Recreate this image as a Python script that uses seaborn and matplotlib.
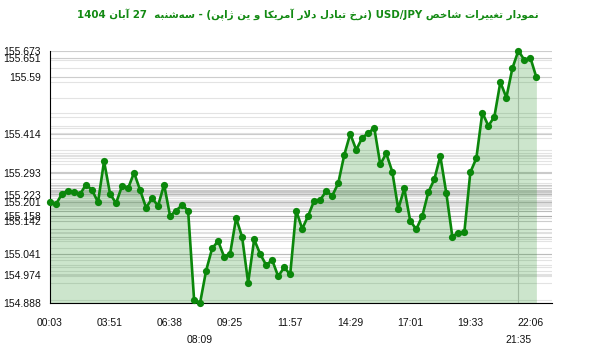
import re
import numpy as np
import pandas as pd
import matplotlib
matplotlib.use("Agg")
import matplotlib.pyplot as plt
import seaborn as sns

# ---------------- data ----------------
title_text = "نمودار تغییرات شاخص USD/JPY (نرخ تبادل دلار آمریکا و ین ژاپن) - سه\u200cشنبه  27 آبان 1404"

values = [155.201, 155.195, 155.227, 155.237, 155.234, 155.226, 155.256, 155.239, 155.201, 155.329,
          155.227, 155.198, 155.252, 155.244, 155.293, 155.239, 155.184, 155.213, 155.190, 155.256,
          155.158, 155.175, 155.192, 155.175, 154.896, 154.888, 154.988, 155.057, 155.080, 155.031,
          155.041, 155.152, 155.092, 154.950, 155.085, 155.040, 155.005, 155.021, 154.970, 154.998,
          154.976, 155.175, 155.118, 155.159, 155.206, 155.208, 155.236, 155.221, 155.260, 155.348,
          155.414, 155.364, 155.402, 155.416, 155.433, 155.319, 155.353, 155.296, 155.180, 155.244,
          155.142, 155.117, 155.158, 155.232, 155.272, 155.345, 155.229, 155.094, 155.106, 155.107,
          155.294, 155.338, 155.480, 155.439, 155.467, 155.575, 155.527, 155.618, 155.673, 155.644,
          155.651, 155.590]

ytick_values = [155.673, 155.651, 155.59, 155.414, 155.293, 155.223, 155.201, 155.158, 155.142,
                155.041, 154.974, 154.888]

xtick_pos = [0, 10, 20, 30, 40, 50, 60, 70, 80]
xtick_labels = ["00:03", "03:51", "06:38", "09:25", "11:57", "14:29", "17:01", "19:33", "22:06"]
xtick2_pos = [25, 78]
xtick2_labels = ["08:09", "21:35"]

# ---------------- simple Persian shaping + bidi ----------------
FORMS = {
    'ا': (0xFE8D, 0xFE8E, None, None), 'آ': (0xFE81, 0xFE82, None, None),
    'ب': (0xFE8F, 0xFE90, 0xFE91, 0xFE92), 'پ': (0xFB56, 0xFB57, 0xFB58, 0xFB59),
    'ت': (0xFE95, 0xFE96, 0xFE97, 0xFE98), 'خ': (0xFEA5, 0xFEA6, 0xFEA7, 0xFEA8),
    'د': (0xFEA9, 0xFEAA, None, None), 'ر': (0xFEAD, 0xFEAE, None, None),
    'ژ': (0xFB8A, 0xFB8B, None, None), 'س': (0xFEB1, 0xFEB2, 0xFEB3, 0xFEB4),
    'ش': (0xFEB5, 0xFEB6, 0xFEB7, 0xFEB8), 'ص': (0xFEB9, 0xFEBA, 0xFEBB, 0xFEBC),
    'غ': (0xFECD, 0xFECE, 0xFECF, 0xFED0), 'ک': (0xFB8E, 0xFB8F, 0xFB90, 0xFB91),
    'ل': (0xFEDD, 0xFEDE, 0xFEDF, 0xFEE0), 'م': (0xFEE1, 0xFEE2, 0xFEE3, 0xFEE4),
    'ن': (0xFEE5, 0xFEE6, 0xFEE7, 0xFEE8), 'ه': (0xFEE9, 0xFEEA, 0xFEEB, 0xFEEC),
    'و': (0xFEED, 0xFEEE, None, None), 'ی': (0xFBFC, 0xFBFD, 0xFBFE, 0xFBFF),
}


def shape(s):
    out = []
    i, n = 0, len(s)
    while i < n:
        c = s[i]
        if c not in FORMS:
            if c != '\u200c':
                out.append(c)
            i += 1
            continue
        prev = s[i - 1] if i > 0 else ''
        joins_prev = prev in FORMS and FORMS[prev][2] is not None
        if c == 'ل' and i + 1 < n and s[i + 1] in ('ا', 'آ'):
            lig = (0xFEFB, 0xFEFC) if s[i + 1] == 'ا' else (0xFEF5, 0xFEF6)
            out.append(chr(lig[1] if joins_prev else lig[0]))
            i += 2
            continue
        nxt = s[i + 1] if i + 1 < n else ''
        joins_next = FORMS[c][2] is not None and nxt in FORMS
        iso, fin, ini, med = FORMS[c]
        if joins_prev and joins_next:
            g = med
        elif joins_prev:
            g = fin
        elif joins_next:
            g = ini
        else:
            g = iso
        out.append(chr(g))
        i += 1
    return ''.join(out)


def visual(s):
    s = shape(s)
    segs = re.findall(r'[A-Za-z0-9/.]+|[^A-Za-z0-9/.]+', s)
    vis = []
    for seg in reversed(segs):
        if re.match(r'[A-Za-z0-9]', seg):
            vis.append(seg)
        else:
            vis.append(seg[::-1].translate(str.maketrans('()', ')(')))
    return ''.join(vis)


# ---------------- plot ----------------
sns.set_style("white")
plt.rcParams['font.family'] = ['Liberation Sans', 'DejaVu Sans']

df = pd.DataFrame({"idx": np.arange(len(values)), "value": values})
ymin, ymax = min(values), max(values)
xmax = 83.6

fig = plt.figure(figsize=(6.0, 3.52), dpi=100)
ax = fig.add_axes([50 / 600, 1 - 302.7 / 352, 502 / 600, 252 / 352])

# horizontal lines at every value
ax.hlines(values, 0, xmax, colors='gray', alpha=0.22, linewidth=0.8, zorder=1)
ax.hlines(ytick_values, 0, xmax, colors='gray', alpha=0.22, linewidth=0.8, zorder=1)
ax.axvline(xtick2_pos[1], color='#c8c8c8', linewidth=0.8, zorder=1)

ax.fill_between(df["idx"], df["value"], ymin, color='green', alpha=0.2, linewidth=0, zorder=2)
sns.lineplot(data=df, x="idx", y="value", ax=ax, color='#0b870b', linewidth=1.9,
             marker='o', markersize=5.2, markeredgewidth=0, zorder=3)
for ln in ax.lines:
    ln.set_clip_on(False)

ax.set_xlim(0, xmax)
ax.set_ylim(ymin, ymax)
ax.set_xlabel("")
ax.set_ylabel("")

ax.set_yticks(ytick_values)
ax.set_yticklabels([f"{v:g}" for v in ytick_values])
ax.set_xticks(xtick_pos)
ax.set_xticklabels(xtick_labels)
ax.set_xticks(xtick2_pos, minor=True)
ax.set_xticklabels(xtick2_labels, minor=True)

ax.tick_params(axis='both', which='major', direction='inout', length=7.5, width=0.8,
               color='black', labelsize=7.5, labelcolor='#111111')
ax.tick_params(axis='y', which='major', pad=2.6)
ax.tick_params(axis='x', which='major', pad=7.6)
ax.tick_params(axis='x', which='minor', direction='out', length=16.5, width=0.8,
               color='black', labelsize=7.5, labelcolor='#111111', pad=6.5)
ax.xaxis.get_minor_ticks()[1].tick1line.set_color('#c4c4c4')

for side in ['top', 'right']:
    ax.spines[side].set_visible(False)
for side in ['left', 'bottom']:
    ax.spines[side].set_color('black')
    ax.spines[side].set_linewidth(0.8)
ax.spines['bottom'].set_bounds(0, xmax)

fig.text(0.513, 1 - 15 / 352, visual(title_text), ha='center', va='center',
         fontsize=7.4, fontweight='bold', color='#138a13', family=['DejaVu Sans'])

fig.savefig("out.png", dpi=100, facecolor='white')
